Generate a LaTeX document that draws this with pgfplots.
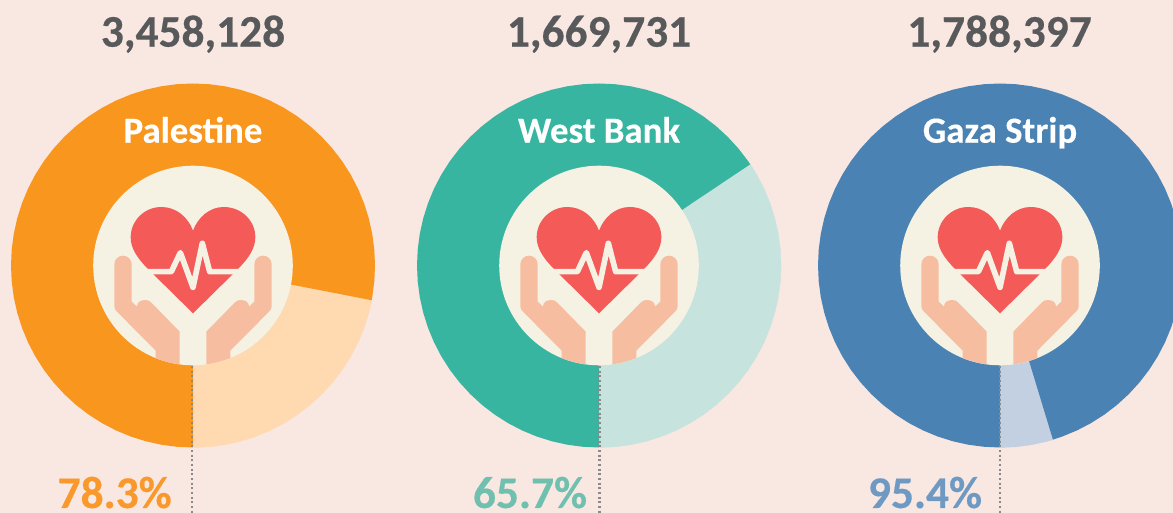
\documentclass[border=0pt]{standalone}
\usepackage{pgfplots}
\pgfplotsset{compat=1.18}
\usepackage{fontspec}
\setmainfont{Carlito}[BoldFont=Carlito Bold,BoldFeatures={FakeBold=0.35}]
\definecolor{bg}{HTML}{F9E7E1}
\definecolor{cream}{HTML}{F5F1E3}
\definecolor{heart}{HTML}{F35A58}
\definecolor{hand}{HTML}{F7BDA0}
\definecolor{numtxt}{HTML}{58595B}
\definecolor{dots}{HTML}{8A8A8A}
\definecolor{orangeD}{HTML}{F8961D}
\definecolor{orangeL}{HTML}{FFD9B0}
\definecolor{orangeT}{HTML}{F9992B}
\definecolor{tealD}{HTML}{38B5A0}
\definecolor{tealL}{HTML}{C7E3DE}
\definecolor{tealT}{HTML}{6FC0AF}
\definecolor{blueD}{HTML}{4A83B3}
\definecolor{blueL}{HTML}{C3D0E2}
\definecolor{blueT}{HTML}{6E99C3}
\pgfplotsset{donut/.style={scale only axis,width=879.75pt,height=384.75pt,
  axis lines=none,ymin=-247.5,ymax=265.5}}
\newcommand{\handshape}{%
  \fill[hand] (-236,-3.5) arc[start angle=180,end angle=360,radius=26]
    -- (-184,108.5) -- (-168,123.5)
    .. controls (-168,110) and (-157,103.5) .. (-143,103.5)
    .. controls (-135,103.5) and (-130,106) .. (-125,111.5)
    -- (-40,198.5) -- (-40,296.7)
    .. controls (-64,293) and (-88,287) .. (-112,277.7)
    -- (-112,255.5) -- (-225,141.5)
    .. controls (-232,135) and (-236,130) .. (-236,123.5) -- cycle;}
\newcommand{\icon}{%
  \fill[cream] (axis cs:0,0) circle[radius=99.8];
  \begin{scope}[shift={(axis cs:0,0)},x=.25pt,y=-.25pt]
    \handshape
    \begin{scope}[xscale=-1]\handshape\end{scope}
    \fill[heart] (0,143.5) -- (-135,10.5)
      .. controls (-165,-20) and (-187,-50) .. (-187,-84.5)
      .. controls (-187,-135) and (-145,-175.5) .. (-95,-175.5)
      .. controls (-50,-175.5) and (-15,-145) .. (0,-104.5)
      .. controls (15,-145) and (50,-175.5) .. (92,-175.5)
      .. controls (145,-175.5) and (187,-135) .. (187,-84.5)
      .. controls (187,-50) and (165,-20) .. (135,10.5) -- cycle;
    \draw[cream,line width=4.25pt,line cap=round,line join=round]
      (-145,18.5) -- (-65,18.5) -- (-38,-38.5) -- (0,65.5) -- (28,-66.5) -- (50,18.5) -- (145,18.5);
  \end{scope}}
\newcommand{\bignum}{\fontsize{34}{40}\selectfont\bfseries}
\newcommand{\midname}{\fontsize{27.6}{32}\selectfont\bfseries}
\tikzset{dotline/.style={dots,line width=1.6pt,dash pattern=on 1.6pt off 1.9pt}}
\begin{document}
\begin{tikzpicture}
% Palestine
\begin{axis}[donut,xmin=-193,xmax=980,axis background/.style={fill=bg}]
\addplot[data cs=polar,fill=orangeL,draw=orangeL,line width=0.3pt] coordinates {(0,0)(-11,182)(-15,182)(-20,182)(-25,182)(-30,182)(-35,182)(-40,182)(-45,182)(-50,182)(-55,182)(-60,182)(-65,182)(-70,182)(-75,182)(-80,182)(-85,182)(-90,182)} -- cycle;
\addplot[data cs=polar,fill=orangeD,draw=none] coordinates {(0,0)(270,182)(265,182)(260,182)(255,182)(250,182)(245,182)(240,182)(235,182)(230,182)(225,182)(220,182)(215,182)(210,182)(205,182)(200,182)(195,182)(190,182)(185,182)(180,182)(175,182)(170,182)(165,182)(160,182)(155,182)(150,182)(145,182)(140,182)(135,182)(130,182)(125,182)(120,182)(115,182)(110,182)(105,182)(100,182)(95,182)(90,182)(85,182)(80,182)(75,182)(70,182)(65,182)(60,182)(55,182)(50,182)(45,182)(40,182)(35,182)(30,182)(25,182)(20,182)(15,182)(10,182)(5,182)(0,182)(-5,182)(-10,182)(-11,182)} -- cycle;
\icon
\addplot[dotline] coordinates {(-0.7,-100.5)(-0.7,-247.5)};
\node[anchor=base,inner sep=0,text=numtxt] at (axis cs:0,218.8) {\bignum 3,458,128};
\node[anchor=base,inner sep=0,text=white] at (axis cs:0,122.8) {\midname Palestine};
\node[anchor=base,inner sep=0,text=orangeT] at (axis cs:-78.3,-242.5) {\bignum 78.3\%};
\end{axis}
% West Bank
\begin{axis}[donut,xmin=-599,xmax=574]
\addplot[data cs=polar,fill=tealL,draw=tealL,line width=0.3pt] coordinates {(0,0)(33.8,182)(30,182)(25,182)(20,182)(15,182)(10,182)(5,182)(0,182)(-5,182)(-10,182)(-15,182)(-20,182)(-25,182)(-30,182)(-35,182)(-40,182)(-45,182)(-50,182)(-55,182)(-60,182)(-65,182)(-70,182)(-75,182)(-80,182)(-85,182)(-90,182)} -- cycle;
\addplot[data cs=polar,fill=tealD,draw=none] coordinates {(0,0)(270,182)(265,182)(260,182)(255,182)(250,182)(245,182)(240,182)(235,182)(230,182)(225,182)(220,182)(215,182)(210,182)(205,182)(200,182)(195,182)(190,182)(185,182)(180,182)(175,182)(170,182)(165,182)(160,182)(155,182)(150,182)(145,182)(140,182)(135,182)(130,182)(125,182)(120,182)(115,182)(110,182)(105,182)(100,182)(95,182)(90,182)(85,182)(80,182)(75,182)(70,182)(65,182)(60,182)(55,182)(50,182)(45,182)(40,182)(35,182)(33.8,182)} -- cycle;
\icon
\addplot[dotline] coordinates {(0.5,-100.5)(0.5,-247.5)};
\node[anchor=base,inner sep=0,text=numtxt] at (axis cs:0,218.8) {\bignum 1,669,731};
\node[anchor=base,inner sep=0,text=white] at (axis cs:0,122.8) {\midname West Bank};
\node[anchor=base,inner sep=0,text=tealT] at (axis cs:-69,-242.5) {\bignum 65.7\%};
\end{axis}
% Gaza Strip
\begin{axis}[donut,xmin=-1000,xmax=173]
\addplot[data cs=polar,fill=blueL,draw=blueL,line width=0.3pt] coordinates {(0,0)(-73.1,182)(-75,182)(-80,182)(-85,182)(-90,182)} -- cycle;
\addplot[data cs=polar,fill=blueD,draw=none] coordinates {(0,0)(270,182)(265,182)(260,182)(255,182)(250,182)(245,182)(240,182)(235,182)(230,182)(225,182)(220,182)(215,182)(210,182)(205,182)(200,182)(195,182)(190,182)(185,182)(180,182)(175,182)(170,182)(165,182)(160,182)(155,182)(150,182)(145,182)(140,182)(135,182)(130,182)(125,182)(120,182)(115,182)(110,182)(105,182)(100,182)(95,182)(90,182)(85,182)(80,182)(75,182)(70,182)(65,182)(60,182)(55,182)(50,182)(45,182)(40,182)(35,182)(30,182)(25,182)(20,182)(15,182)(10,182)(5,182)(0,182)(-5,182)(-10,182)(-15,182)(-20,182)(-25,182)(-30,182)(-35,182)(-40,182)(-45,182)(-50,182)(-55,182)(-60,182)(-65,182)(-70,182)(-73.1,182)} -- cycle;
\icon
\addplot[dotline] coordinates {(0,-100.5)(0,-247.5)};
\node[anchor=base,inner sep=0,text=numtxt] at (axis cs:-0.5,218.8) {\bignum 1,788,397};
\node[anchor=base,inner sep=0,text=white] at (axis cs:0,122.8) {\midname Gaza Strip};
\node[anchor=base,inner sep=0,text=blueT] at (axis cs:-75,-242.5) {\bignum 95.4\%};
\end{axis}
\end{tikzpicture}
\end{document}
